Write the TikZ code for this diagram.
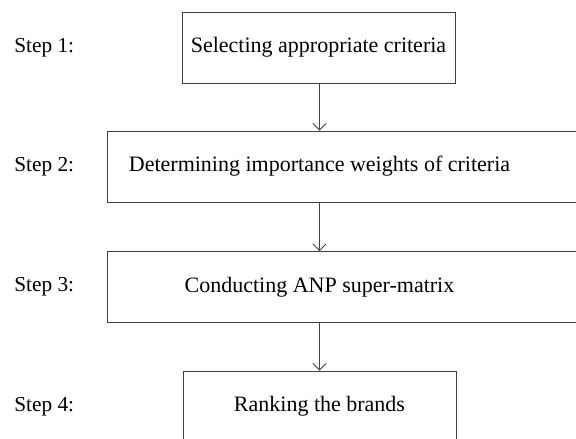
\documentclass[tikz,border=0pt]{standalone}
\usepackage{fontspec}
\setmainfont{Liberation Serif}
\usetikzlibrary{calc,arrows.meta}

\begin{document}
\begin{tikzpicture}[x=0.75pt, y=-0.75pt]

    \tikzstyle{stepbox}=[draw=black!75, line width=0.6pt, minimum height=53.25pt, inner sep=0pt, font=\fontsize{16.5}{19}\selectfont];
    \tikzstyle{narrow}=[stepbox, minimum width=204.75pt];
    \tikzstyle{wide}=[stepbox, minimum width=362.25pt];
    \tikzstyle{steplabel}=[anchor=west, inner sep=0pt, font=\fontsize{16}{19}\selectfont];

    \clip (0,0) rectangle (576,439);

    \node[narrow] (s1) at (318.5,47.5) {Selecting appropriate criteria};
    \node[wide, label={[xshift=-21.75pt, font=\fontsize{16.5}{19}\selectfont]center:Determining importance weights of criteria}] (s2) at (348.5,166.5) {};
    \node[wide, label={[xshift=-21.75pt, font=\fontsize{16.5}{19}\selectfont]center:Conducting ANP super-matrix}] (s3) at (348.5,287) {};
    \node[narrow] (s4) at (319.5,406.5) {Ranking the brands};

    \node[steplabel] (l1) at (14,47.5) {Step 1:};
    \node[steplabel] (l2) at (14,166.5) {Step 2:};
    \node[steplabel] (l3) at (14,287) {Step 3:};
    \node[steplabel] (l4) at (14,406.5) {Step 4:};

    \coordinate (t2) at (s2.north -| s4.north);
    \coordinate (b2) at (s2.south -| s4.north);
    \coordinate (t3) at (s3.north -| s4.north);
    \coordinate (b3) at (s3.south -| s4.north);
    \coordinate (b1) at (s1.south -| s4.north);

    \draw (b1) edge[-{Straight Barb[length=5pt, width=10pt]}, draw=black!75, line width=0.6pt] (t2);
    \draw (b2) edge[-{Straight Barb[length=5pt, width=10pt]}, draw=black!75, line width=0.6pt] (t3);
    \draw (b3) edge[-{Straight Barb[length=5pt, width=10pt]}, draw=black!75, line width=0.6pt] (s4.north);
    \end{tikzpicture}
\end{document}
